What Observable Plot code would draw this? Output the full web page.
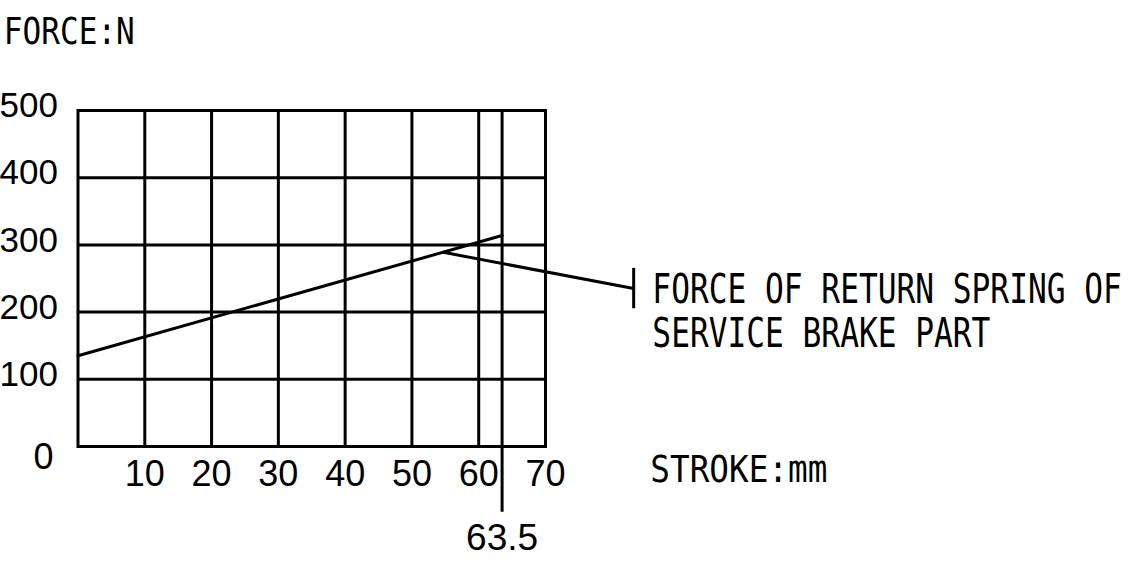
<!DOCTYPE html>
<html><head><meta charset="utf-8">
<script src="https://cdn.jsdelivr.net/npm/d3@7"></script>
<script src="https://cdn.jsdelivr.net/npm/@observablehq/plot@0.6"></script>
<style>body{margin:0;background:#fff}</style>
</head><body><div id="chart"></div>
<script>
// Data
const strokeMM = [0, 63.5];
const forceN = [135, 314];
const xGrid = [10, 20, 30, 40, 50, 60];
const yGrid = [100, 200, 300, 400];
const xTicks = [10, 20, 30, 40, 50, 60, 70];
const yTicks = [100, 200, 300, 400, 500];
const endStroke = [63.5];
const endStrokeBottom = -98;
const leaderX = [54.7, 83.2];
const leaderY = [289, 235];
const labelLines = ["FORCE OF RETURN SPRING OF", "SERVICE BRAKE PART"];
const labelLineY = [233, 167];
const labelLineX = 86;
const yTitle = "FORCE:N";
const xTitle = "STROKE:mm";

const curve = strokeMM.map((x, i) => ({x, y: forceN[i]}));
const leader = leaderX.map((x, i) => ({x, y: leaderY[i]}));
const lines = labelLines.map((t, i) => ({t, y: labelLineY[i]}));
const mono = "'DejaVu Sans Mono', 'Liberation Mono', monospace";

const plot = Plot.plot({
  width: 1147, height: 584,
  marginLeft: 77.5, marginRight: 602, marginTop: 110, marginBottom: 138,
  x: {domain: [0, 70], axis: null, label: null},
  y: {domain: [0, 500], axis: null, label: null},
  style: {fontFamily: "'Liberation Sans', Arial, sans-serif", background: "#fff", color: "#000"},
  marks: [
    Plot.ruleX(xGrid, {y1: 0, y2: 500, stroke: "#000", strokeWidth: 3}),
    Plot.ruleY(yGrid, {x1: 0, x2: 70, stroke: "#000", strokeWidth: 3}),
    Plot.ruleX(endStroke, {y1: endStrokeBottom, y2: 500, stroke: "#000", strokeWidth: 3}),
    Plot.frame({stroke: "#000", strokeWidth: 3}),
    Plot.line(curve, {x: "x", y: "y", stroke: "#000", strokeWidth: 3}),
    Plot.line(leader, {x: "x", y: "y", stroke: "#000", strokeWidth: 3}),
    Plot.ruleX([leaderX[1]], {y1: leaderY[1] - 30, y2: leaderY[1] + 30, stroke: "#000", strokeWidth: 3}),
    Plot.axisX(xTicks, {anchor: "bottom", tickSize: 0, tickPadding: 14, fontSize: 36, label: null, tickFormat: d => String(d)}),
    Plot.axisX(endStroke, {anchor: "bottom", tickSize: 0, tickPadding: 77, fontSize: 37, label: null, tickFormat: d => String(d)}),
    Plot.axisY(yTicks, {anchor: "left", tickSize: 0, tickPadding: 20, fontSize: 35, dy: -4.5, label: null, tickFormat: d => String(d)}),
    Plot.axisY([0], {anchor: "left", tickSize: 0, tickPadding: 24.5, fontSize: 36, dy: 11, label: null, tickFormat: d => String(d)}),
    Plot.text([yTitle], {x: -11.1, y: 617, text: d => d, textAnchor: "start", lineAnchor: "middle", fontSize: 37, fontFamily: mono}),
    Plot.text([xTitle], {x: 85.7, y: -34, text: d => d, textAnchor: "start", lineAnchor: "middle", fontSize: 38, fontFamily: mono}),
    Plot.text(lines, {x: labelLineX, y: "y", text: "t", textAnchor: "start", lineAnchor: "middle", fontSize: 40, fontFamily: mono})
  ]
});
document.getElementById("chart").append(plot);
const squeeze = {[yTitle]: 0.84, [xTitle]: 0.86};
d3.select(plot).selectAll('g[aria-label="text"] text').each(function() {
  const f = squeeze[this.textContent] || 0.78;
  const t = this.getAttribute("transform") || "";
  this.setAttribute("transform", `${t} scale(${f},1)`);
});
</script>
</body></html>
